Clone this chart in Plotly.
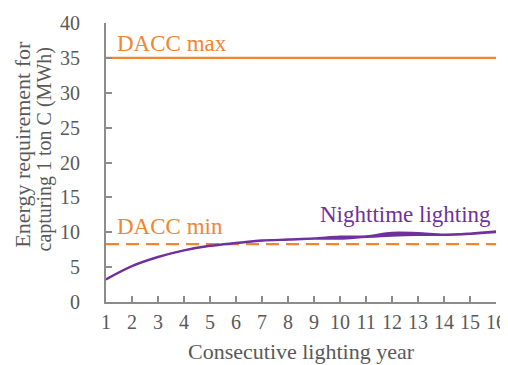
import plotly.graph_objects as go

years = list(range(1, 17))
night_lower = [3.2, 5.1, 6.4, 7.35, 8.0, 8.4, 8.75, 8.9, 9.05, 9.05, 9.3, 9.5, 9.6, 9.6, 9.75, 10.0]
night_upper = [3.3, 5.2, 6.5, 7.45, 8.1, 8.5, 8.85, 9.0, 9.15, 9.4, 9.45, 9.95, 9.9, 9.7, 9.85, 10.15]
dacc_max = 35
dacc_min = 8.3
y_ticks = list(range(0, 41, 5))

ORANGE = "#F08532"
PURPLE = "#7030A0"
GREY = "#595959"
AXIS = "#8C8C8C"
FONT = "'Liberation Serif', 'Times New Roman', 'DejaVu Serif', serif"

fig = go.Figure()
fig.add_trace(go.Scatter(x=years, y=[dacc_max] * len(years), mode="lines",
                         line=dict(color=ORANGE, width=2.2), showlegend=False))
fig.add_trace(go.Scatter(x=years, y=[dacc_min] * len(years), mode="lines",
                         line=dict(color=ORANGE, width=2.2, dash="13px,7px"), showlegend=False))
fig.add_trace(go.Scatter(x=years, y=night_lower, mode="lines",
                         line=dict(color=PURPLE, width=1.8, shape="spline"), showlegend=False))
fig.add_trace(go.Scatter(x=years, y=night_upper, mode="lines", fill="tonexty",
                         fillcolor=PURPLE,
                         line=dict(color=PURPLE, width=1.8, shape="spline"), showlegend=False))

fig.add_annotation(x=1.34, y=dacc_max, text="DACC max", showarrow=False, xanchor="left",
                   yanchor="bottom", yshift=0, font=dict(family=FONT, size=23, color=ORANGE))
fig.add_annotation(x=1.34, y=dacc_min, text="DACC min", showarrow=False, xanchor="left",
                   yanchor="bottom", yshift=3, font=dict(family=FONT, size=23, color=ORANGE))
fig.add_annotation(xref="paper", x=0.993, y=10.47, text="Nighttime lighting", showarrow=False,
                   xanchor="right", yanchor="bottom",
                   font=dict(family=FONT, size=23, color=PURPLE))

# axis titles
fig.add_annotation(xref="paper", yref="paper", x=-0.213, y=0.567, text="Energy requirement for",
                   textangle=-90, showarrow=False, xanchor="center", yanchor="middle",
                   font=dict(family=FONT, size=22, color=GREY))
fig.add_annotation(xref="paper", yref="paper", x=-0.158, y=0.548, text="capturing 1 ton C (MWh)",
                   textangle=-90, showarrow=False, xanchor="center", yanchor="middle",
                   font=dict(family=FONT, size=20, color=GREY))
fig.add_annotation(xref="paper", yref="paper", x=0.5, y=-0.1245, text="Consecutive lighting year",
                   showarrow=False, xanchor="center", yanchor="top",
                   font=dict(family=FONT, size=22, color=GREY))

# the page body adds an 8px margin; the figure is sized so it fits the 508x365 window
fig.update_layout(
    width=500, height=357,
    margin=dict(l=98, r=12, t=15, b=63),
    paper_bgcolor="white", plot_bgcolor="white",
    font=dict(family=FONT, size=20, color=GREY),
    xaxis=dict(range=[1, 16], tickvals=years, ticks="inside", ticklen=6, tickcolor=AXIS,
               tickwidth=1.5, showline=True, linecolor=AXIS, linewidth=2, showgrid=False,
               zeroline=False, ticklabelstandoff=1, automargin=False,
               tickfont=dict(family=FONT, size=20, color=GREY)),
    yaxis=dict(range=[0, 40], tickvals=y_ticks, ticks="inside", ticklen=6,
               tickcolor=AXIS, tickwidth=1.5, showline=True, linecolor=AXIS, linewidth=2,
               showgrid=False, zeroline=False, ticklabelstandoff=20, automargin=False,
               tickfont=dict(family=FONT, size=20, color=GREY)),
)

fig.write_html("out.html")
